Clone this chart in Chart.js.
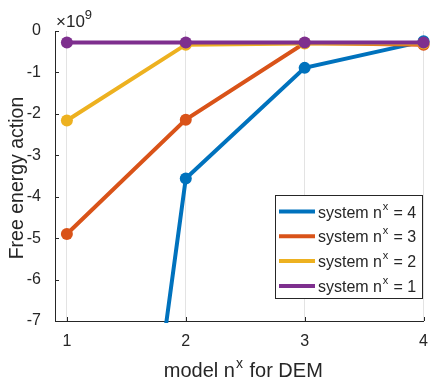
<!DOCTYPE html>
<html>
<head>
<meta charset="utf-8">
<script src="https://cdn.jsdelivr.net/npm/chart.js@4/dist/chart.umd.min.js"></script>
<style>
  html, body { margin: 0; padding: 0; background: #fff; }
</style>
</head>
<body>
<canvas id="chart" width="439" height="382"></canvas>
<script>
// ── Data (values in units of 1e9) ────────────────────────────────────────────

const modelN = [1, 2, 3, 4];
const yTicks = [0, -1, -2, -3, -4, -5, -6, -7];
const sys4 = [-24.8, -3.56, -0.89, -0.25];
const sys3 = [-4.9, -2.14, -0.29, -0.33];
const sys2 = [-2.16, -0.33, -0.3, -0.3];
const sys1 = [-0.28, -0.28, -0.28, -0.28];
const seriesN = ['4', '3', '2', '1'];
const colors = ['#0072BD', '#D95319', '#EDB120', '#7E2F8E'];

const FONT = '"Liberation Sans", Arial, Helvetica, sans-serif';
const INK = '#262626';

// ── Helpers ──────────────────────────────────────────────────────────────────

// Text mit hochgestelltem Teil: parts = [{t, size, dy, gap}]
function drawRich(ctx, parts, x, y, align) {
  let total = 0;
  for (const p of parts) {
    ctx.font = `${p.size}px ${FONT}`;
    p.w = ctx.measureText(p.t).width + (p.gap || 0);
    total += p.w;
  }
  let cx = align === 'center' ? x - total / 2 : x;
  ctx.textAlign = 'left';
  ctx.textBaseline = 'alphabetic';
  for (const p of parts) {
    ctx.font = `${p.size}px ${FONT}`;
    ctx.fillText(p.t, cx + (p.gap || 0) / 2, y + (p.dy || 0));
    cx += p.w;
  }
}

function makeDataset(values, idx) {
  return {
    label: 'system n^x = ' + seriesN[idx],
    data: values.map((v, i) => ({ x: modelN[i], y: v })),
    borderColor: colors[idx],
    backgroundColor: colors[idx],
    pointBackgroundColor: colors[idx],
    pointBorderWidth: 0,
    pointRadius: 6,
    borderWidth: 4,
    tension: 0,
    order: 4 - idx, // sys4 zuerst gezeichnet, sys1 oben
    clip: { left: 8, right: 8, top: 8, bottom: 2 }
  };
}

// ── Plugins ──────────────────────────────────────────────────────────────────

const decorPlugin = {
  id: 'decor',
  afterDraw(chart) {
    const ctx = chart.ctx;
    const { left, right, top, bottom } = chart.chartArea;
    const xs = chart.scales.x, ys = chart.scales.y;
    ctx.save();

    // Ticks nach innen
    ctx.strokeStyle = INK;
    ctx.lineWidth = 1;
    ctx.beginPath();
    yTicks.forEach(v => {
      const py = Math.round(ys.getPixelForValue(v)) + 0.5;
      ctx.moveTo(left, py); ctx.lineTo(left + 4, py);
    });
    modelN.forEach(v => {
      const px = Math.round(xs.getPixelForValue(v)) + 0.5;
      ctx.moveTo(px, bottom); ctx.lineTo(px, bottom - 4);
    });
    ctx.stroke();

    ctx.fillStyle = INK;
    // Exponent-Label
    drawRich(ctx, [
      { t: '\u00d710', size: 17 },
      { t: '9', size: 13, dy: -8 }
    ], left + 1, top - 4, 'left');

    // Achsentitel
    drawRich(ctx, [
      { t: 'model n', size: 20 },
      { t: 'x', size: 14, dy: -9, gap: 2 },
      { t: ' for DEM', size: 20 }
    ], (left + right) / 2 + 4, 377, 'center');

    ctx.save();
    ctx.translate(23, (top + bottom) / 2 + 2);
    ctx.rotate(-Math.PI / 2);
    drawRich(ctx, [{ t: 'Free energy action', size: 19.5 }], 0, 0, 'center');
    ctx.restore();

    // Legende
    const bx = 275.5, by = 195.5, bw = 147, bh = 103;
    ctx.fillStyle = '#fff';
    ctx.fillRect(bx, by, bw, bh);
    ctx.strokeStyle = INK;
    ctx.lineWidth = 1;
    ctx.strokeRect(bx, by, bw, bh);
    seriesN.forEach((n, i) => {
      const ry = 211.5 + i * 24.8;
      ctx.strokeStyle = colors[i];
      ctx.lineWidth = 4;
      ctx.beginPath();
      ctx.moveTo(279, ry); ctx.lineTo(315, ry);
      ctx.stroke();
      ctx.fillStyle = INK;
      drawRich(ctx, [
        { t: 'system n', size: 16 },
        { t: 'x', size: 11, dy: -8, gap: 1.5 },
        { t: ' = ' + n, size: 16 }
      ], 318, ry + 6, 'left');
    });
    ctx.restore();
  }
};

// ── Chart ────────────────────────────────────────────────────────────────────

const datasets = [sys4, sys3, sys2, sys1].map(makeDataset);

new Chart(document.getElementById('chart'), {
  type: 'line',
  data: { datasets },
  options: {
    responsive: false,
    animation: false,
    devicePixelRatio: 1,
    layout: { padding: { top: 31, right: 5, left: 0, bottom: 0 } },
    plugins: { legend: { display: false }, tooltip: { enabled: false } },
    scales: {
      x: {
        type: 'linear',
        min: 0.9,
        max: 4,
        afterBuildTicks: s => { s.ticks = modelN.map(v => ({ value: v })); },
        afterFit: s => { s.height = 61; },
        grid: { color: '#e3e3e3', drawTicks: false },
        border: { color: INK, width: 1 },
        ticks: { color: INK, font: { family: FONT, size: 16 }, padding: 11, callback: v => String(v) }
      },
      y: {
        type: 'linear',
        min: -7,
        max: 0,
        afterBuildTicks: s => { s.ticks = yTicks.map(v => ({ value: v })); },
        afterFit: s => { s.width = 55; },
        grid: { display: false },
        border: { display: true, color: INK, width: 1 },
        ticks: { color: INK, font: { family: FONT, size: 16 }, padding: 6, callback: v => String(v) }
      }
    }
  },
  plugins: [decorPlugin]
});
</script>
</body>
</html>
